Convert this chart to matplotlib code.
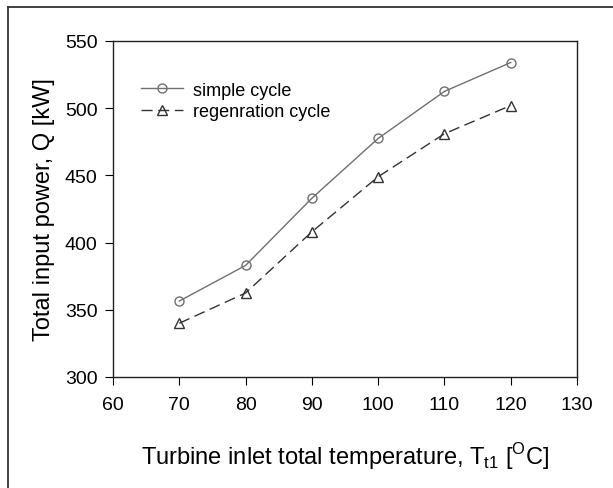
import matplotlib
matplotlib.use("Agg")
import matplotlib.pyplot as plt
from matplotlib.lines import Line2D

plt.rcParams['font.family'] = ['Liberation Sans', 'DejaVu Sans']

temps = [70, 80, 90, 100, 110, 120]
simple_cycle = [356.5, 383, 433, 477.5, 512.5, 534]
regen_cycle = [340, 362.5, 408, 449, 481, 502]

fig = plt.figure(figsize=(6.13, 4.89), dpi=100)
ax = fig.add_axes([113/613, 1 - 378/489, (577-113)/613, (378-42)/489])

ax.plot(temps, simple_cycle, '-', color='#707070', lw=1.0, marker='o',
        mfc='none', mec='#707070', ms=6.5, mew=1.0, label='simple cycle')
ax.plot(temps, regen_cycle, '--', color='#333333', lw=1.0, dashes=(8, 4), marker='^',
        mfc='none', mec='#333333', ms=6.5, mew=1.0, label='regenration cycle')

ax.set_xlim(60, 130)
ax.set_ylim(300, 550)
ax.set_xticks(range(60, 131, 10))
ax.set_yticks(range(300, 551, 50))
ax.tick_params(direction='out', length=6, labelsize=14, top=False, right=False, pad=5)
ax.tick_params(axis='x', pad=8)
for s in ax.spines.values():
    s.set_linewidth(1.0)
    s.set_color('#222222')

ax.set_xlabel(r'Turbine inlet total temperature, T$_{\mathregular{t1}}$ [$^{\mathregular{O}}$C]',
              fontsize=17, labelpad=19)
ax.set_ylabel('Total input power, Q [kW]', fontsize=17, labelpad=7)

ax.legend(loc='upper left', bbox_to_anchor=(0.037, 0.911), frameon=False, fontsize=13,
          handlelength=2.3, labelspacing=0.25, handletextpad=0.6, borderaxespad=0.2)

fig.add_artist(Line2D([8/613, 8/613], [0, 1 - 8/489], color='#333333', lw=1.3))
fig.add_artist(Line2D([8/613, 1], [1 - 8/489, 1 - 8/489], color='#333333', lw=1.3))

fig.savefig('out.png', dpi=100)
